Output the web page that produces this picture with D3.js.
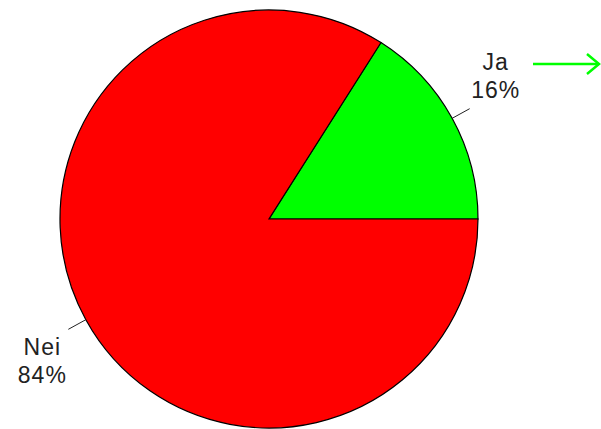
<!DOCTYPE html>
<html>
<head>
<meta charset="utf-8">
<script src="https://cdn.jsdelivr.net/npm/d3@7"></script>
<style>
  body { margin: 0; background: #fff; }
  svg { display: block; }
</style>
</head>
<body>
<script>
var categories = ["Ja", "Nei"];
var values = [16, 84];
var colors = ["#00ff00", "#ff0000"];

function init(){
    var width = 601, height = 429;
    var cx = 269, cy = 219, radius = 209;

    var svg = d3.select("body").append("svg")
        .attr("width", width)
        .attr("height", height);

    var data = categories.map(function(c, i) {
        return { label: c, value: values[i], color: colors[i] };
    });

    // start at 3 o'clock and go anticlockwise, like the original
    var pie = d3.pie()
        .sort(null)
        .value(function(d) { return d.value; })
        .startAngle(Math.PI / 2)
        .endAngle(Math.PI / 2 - 2 * Math.PI);

    var arc = d3.arc().innerRadius(0).outerRadius(radius);

    var g = svg.append("g")
        .attr("transform", "translate(" + cx + "," + cy + ")");

    var total = d3.sum(values);

    var slices = g.selectAll(".slice")
        .data(pie(data))
        .enter()
        .append("g")
        .attr("class", "slice");

    slices.append("path")
        .attr("d", arc)
        .attr("fill", function(d) { return d.data.color; })
        .attr("stroke", "#000")
        .attr("stroke-width", 1.2);

    // leader lines + labels
    slices.each(function(d) {
        var mid = (d.startAngle + d.endAngle) / 2;
        var sx = Math.sin(mid), sy = -Math.cos(mid);
        var p0 = [sx * radius, sy * radius];
        var p1 = [sx * (radius + 20), sy * (radius + 20)];
        var sel = d3.select(this);

        sel.append("line")
            .attr("x1", p0[0]).attr("y1", p0[1])
            .attr("x2", p1[0]).attr("y2", p1[1])
            .attr("stroke", "#222")
            .attr("stroke-width", 1);

        var tx = p1[0] + (sx > 0 ? 26 : -26);
        var by = sy < 0 ? p1[1] - 39 : p1[1] + 26;
        var pct = Math.round(d.data.value / total * 100) + "%";

        var t = sel.append("text")
            .attr("text-anchor", "middle")
            .attr("font-family", "Liberation Sans, Arial, sans-serif")
            .attr("font-size", 23)
            .attr("letter-spacing", 1)
            .attr("fill", "#222");
        t.append("tspan").attr("x", tx).attr("y", by).text(d.data.label);
        t.append("tspan").attr("x", tx).attr("y", by + 28).text(pct);
    });

    // green arrow top right
    var arrow = svg.append("g")
        .attr("stroke", "#00ff00")
        .attr("stroke-width", 2.5)
        .attr("fill", "none");
    arrow.append("line")
        .attr("x1", 533).attr("y1", 64)
        .attr("x2", 599).attr("y2", 64);
    arrow.append("path")
        .attr("d", d3.line()([[587, 54], [599, 64], [587, 74]]));
}

window.onload = init;
</script>
</body>
</html>
